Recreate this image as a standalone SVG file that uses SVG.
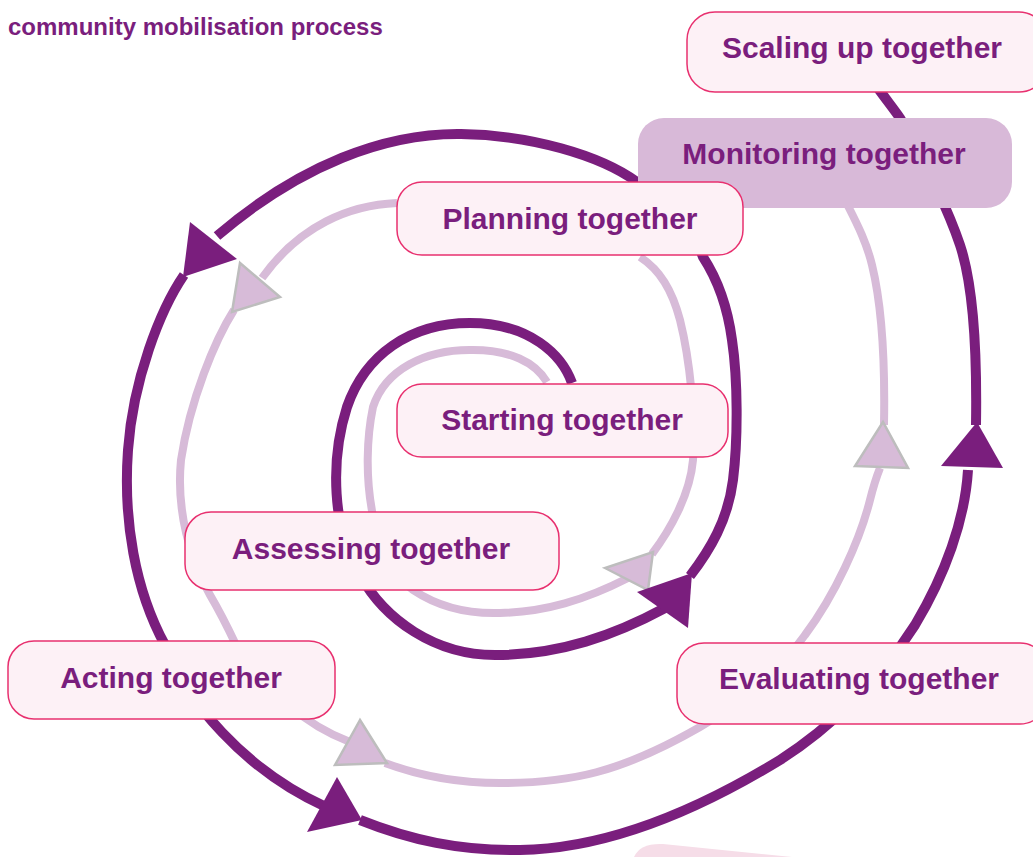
<svg xmlns="http://www.w3.org/2000/svg" width="1033" height="857" viewBox="0 0 1033 857">
  <style>
    .dark { fill: none; stroke: #7a1e7d; stroke-width: 10; }
    .light { fill: none; stroke: #d7bbd8; stroke-width: 8; }
    .head-dark { fill: #7a1e7d; stroke: none; }
    .head-light { fill: #d7bbd8; stroke: #bdbdbd; stroke-width: 2.5; }
    .box { fill: #fdf1f6; stroke: #e8306f; stroke-width: 1.5; }
    .box-alt { fill: #d8b9d8; stroke: none; }
    .label { font-family: "Liberation Sans", Arial, sans-serif; font-weight: bold; font-size: 30px; fill: #7a1e7d; text-anchor: middle; }
    .title { font-family: "Liberation Sans", Arial, sans-serif; font-weight: bold; font-size: 24px; fill: #7a1e7d; }
  </style>

  <rect width="1033" height="857" fill="#ffffff"/>

  <text class="title" x="8" y="35">community mobilisation process</text>

  <!-- two interleaved spirals with their direction arrowheads -->
  <g id="connectors">
    <!-- inner light spiral -->
    <path class="light" d="M547,382 C535,362 510,350 473,350 C425,349 385,370 373,407 C360,470 370,560 413,590 C440,608 470,614 500,613 C545,612 585,600 628,578"/>
    <path class="light" d="M652,554 C670,530 690,495 693,460 C696,420 690,360 680,320 C672,290 660,270 640,257"/>
    <path class="light" d="M397,203 C350,205 300,225 262,278"/>
    <path class="light" d="M234,310 C215,340 190,400 181,460 C176,510 190,560 210,595 C220,612 228,628 236,645 C265,690 305,725 350,742"/>
    <path class="light" d="M385,763 C420,776 460,783 500,783 C570,783 620,773 700,727 C740,704 780,670 805,635 C835,595 860,540 870,500 C873,488 876,478 880,468"/>
    <path class="light" d="M884,425 C885,370 883,310 872,265 C866,240 855,220 845,200"/>
    <polygon class="head-light" points="240,263 280,297 232,312"/>
    <polygon class="head-light" points="605,568 648,590 653,552"/>
    <polygon class="head-light" points="360,720 335,765 387,763"/>
    <polygon class="head-light" points="855,466 908,468 883,422"/>

    <!-- outer dark spiral -->
    <path class="dark" d="M572,383 C562,355 530,323 470,323 C410,323 365,355 347,407 C330,460 332,530 360,575 C385,620 435,655 495,655 C560,655 615,635 665,608"/>
    <path class="dark" d="M690,576 C710,550 728,520 733,480 C738,440 738,380 732,340 C728,310 718,280 703,257 C690,222 665,198 637,182 C600,155 530,135 461,134 C385,133 300,165 217,236"/>
    <path class="dark" d="M184,275 C160,310 133,380 128,450 C123,520 135,590 165,645 C185,700 245,770 324,806"/>
    <path class="dark" d="M360,820 C410,840 460,851 520,850 C600,849 690,815 780,760 C830,728 880,680 915,625 C945,575 965,520 968,470"/>
    <path class="dark" d="M976,425 C977,360 975,290 960,245 C950,215 925,160 900,118 C893,108 885,98 875,84"/>
    <polygon class="head-dark" points="637,592 688,628 692,573"/>
    <polygon class="head-dark" points="190,222 237,259 183,277"/>
    <polygon class="head-dark" points="337,777 307,832 362,820"/>
    <polygon class="head-dark" points="941,466 1003,468 977,422"/>
  </g>

  <g id="scaling">
    <rect class="box" x="687" y="12" width="360" height="80" rx="28"/>
    <text class="label" x="862" y="58">Scaling up together</text>
  </g>

  <g id="monitoring">
    <rect class="box-alt" x="638" y="118" width="374" height="90" rx="26"/>
    <text class="label" x="824" y="164">Monitoring together</text>
  </g>

  <g id="planning">
    <rect class="box" x="397" y="182" width="346" height="73" rx="25"/>
    <text class="label" x="570" y="229">Planning together</text>
  </g>

  <g id="starting">
    <rect class="box" x="397" y="384" width="331" height="73" rx="25"/>
    <text class="label" x="562" y="430">Starting together</text>
  </g>

  <g id="assessing">
    <rect class="box" x="185" y="512" width="374" height="78" rx="26"/>
    <text class="label" x="371" y="559">Assessing together</text>
  </g>

  <g id="acting">
    <rect class="box" x="8" y="641" width="327" height="78" rx="26"/>
    <text class="label" x="171" y="688">Acting together</text>
  </g>

  <g id="evaluating">
    <rect class="box" x="677" y="643" width="370" height="81" rx="27"/>
    <text class="label" x="859" y="689">Evaluating together</text>
  </g>

  <!-- edge of a further panel entering from below -->
  <g id="next-panel">
    <path d="M634,857 Q640,843 663,844 L792,857 Z" fill="#f6dde8"/>
  </g>
</svg>
